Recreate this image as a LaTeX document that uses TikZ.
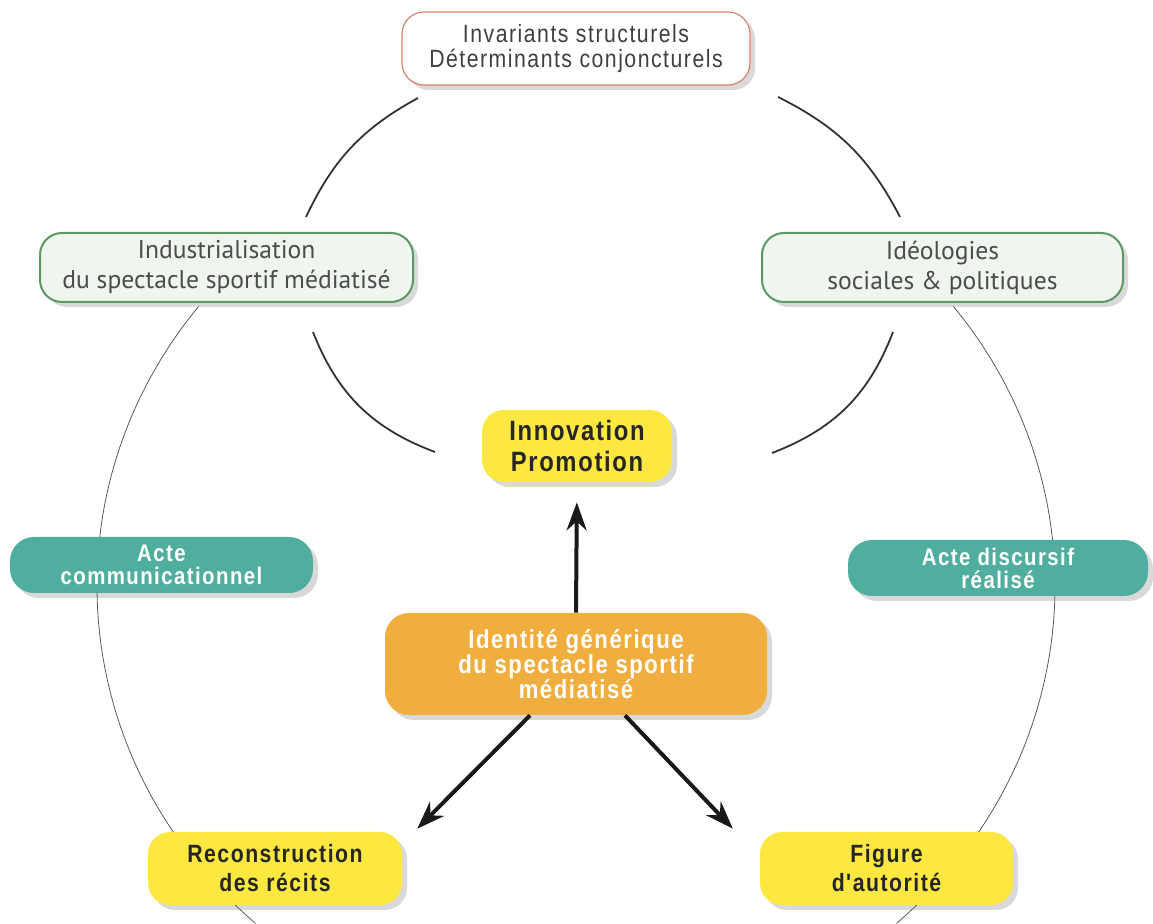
\documentclass[tikz,border=0pt]{standalone}
\usepackage{fontspec}
\setmainfont{Liberation Sans}
\newfontfamily\condfont[FakeStretch=0.85,LetterSpace=6]{Liberation Sans}
\newfontfamily\softfont{PT Sans}
\usetikzlibrary{positioning,shapes,shadows,arrows.meta}

\definecolor{boxyellow}{RGB}{253,232,66}
\definecolor{boxteal}{RGB}{80,174,158}
\definecolor{boxorange}{RGB}{240,174,62}
\definecolor{boxgreen}{RGB}{92,152,98}
\definecolor{fillgreen}{RGB}{240,245,240}
\definecolor{salmon}{RGB}{214,130,112}

\begin{document}
\begin{tikzpicture}[x=0.5pt, y=0.5pt, >={Stealth[length=14pt,width=10pt]}]
  \useasboundingbox (0,0) rectangle (1153,924);

  \tikzset{box/.style={rounded corners=11pt, align=center, inner sep=0pt,
      drop shadow={shadow xshift=2.5pt, shadow yshift=-2.5pt, opacity=0.3}}}
  \tikzset{box_top/.style={box, fill=white, draw=salmon, line width=0.6pt, text=black!75,
      font=\condfont\fontsize{12.5}{12.5}\selectfont}}
  \tikzset{box_green/.style={box, fill=fillgreen, draw=boxgreen, line width=1pt, text=black!70,
      font=\softfont\fontsize{12.8}{15}\selectfont}}
  \tikzset{box_yellow/.style={box, fill=boxyellow, text=black!85,
      font=\condfont\bfseries\fontsize{12.5}{14.5}\selectfont}}
  \tikzset{box_teal/.style={box, rounded corners=12pt, fill=boxteal, text=white,
      font=\condfont\bfseries\fontsize{12}{11.5}\selectfont}}
  \tikzset{box_orange/.style={box, rounded corners=12pt, fill=boxorange, text=white,
      font=\condfont\bfseries\fontsize{13}{12.5}\selectfont}}
  \tikzset{ring_line/.style={draw=black!65, line width=0.4pt}}
  \tikzset{arc_line/.style={draw=black!80, line width=0.9pt}}
  \tikzset{arrow_thick/.style={->, draw=black!90, line width=2pt}}

  % the large ring behind the boxes
  \draw[ring_line] (576,338) ++(142:479 and 454)
    arc[start angle=142, end angle=228, x radius=479, y radius=454];
  \draw[ring_line] (576,338) ++(-48:479 and 454)
    arc[start angle=-48, end angle=38, x radius=479, y radius=454];

  \node[box_top, minimum width=174pt, minimum height=36.5pt] (inv) at (576,875.5)
    {Invariants structurels\\Déterminants conjoncturels};
  \node[box_green, minimum width=186.5pt, minimum height=34.5pt] (indus) at (226.5,656.5)
    {Industrialisation\\du spectacle sportif médiatisé};
  \node[box_green, minimum width=180.5pt, minimum height=34.5pt] (ideo) at (942.5,656.5)
    {Idéologies\\sociales \& politiques};
  \node[box_yellow, minimum width=95pt, minimum height=36pt,
    font=\condfont\bfseries\fontsize{14}{15.5}\selectfont] (innov) at (577,478)
    {Innovation\\Promotion};
  \node[box_teal, minimum width=151.5pt, minimum height=28pt] (comm) at (161.5,359)
    {Acte\\communicationnel};
  \node[box_teal, minimum width=150pt, minimum height=28pt] (disc) at (998,356)
    {Acte discursif\\réalisé};
  \node[box_orange, minimum width=191pt, minimum height=51pt] (ident) at (576,260)
    {Identité générique\\du spectacle sportif\\médiatisé};
  \node[box_yellow, minimum width=127pt, minimum height=36.5pt] (recit) at (275,55.5)
    {Reconstruction\\des récits};
  \node[box_yellow, minimum width=126.5pt, minimum height=36.5pt] (auto) at (886.5,55.5)
    {Figure\\d'autorité};

  % arcs between the upper boxes
  \coordinate (a1) at (306,707);
  \coordinate (a2) at (418,826);
  \coordinate (a3) at (778,827);
  \coordinate (a4) at (900,707);
  \coordinate (a5) at (313,592);
  \coordinate (a6) at (435,472);
  \coordinate (a7) at (893,592);
  \coordinate (a8) at (772,471);
  \draw[arc_line] (a1) to[bend left=18] (a2);
  \draw[arc_line] (a3) to[bend left=18] (a4);
  \draw[arc_line] (a5) to[bend right=24] (a6);
  \draw[arc_line] (a7) to[bend left=24] (a8);

  \path (ident.north) edge [arrow_thick, shorten >=10pt] (innov.south);
  \path ([xshift=-23pt]ident.south) edge [arrow_thick, shorten >=2pt] ([xshift=6pt]recit.north east);
  \path ([xshift=24.5pt]ident.south) edge [arrow_thick, shorten >=2pt] ([xshift=-12pt]auto.north west);
\end{tikzpicture}
\end{document}
